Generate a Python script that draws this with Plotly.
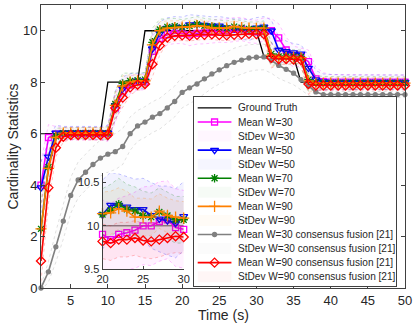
import plotly.graph_objects as go

# time axis (s)
time_s = list(range(1, 51))

ground_truth = [6, 6, 6, 6, 6, 6, 6, 6, 6, 8,
                8, 8, 8, 8, 10, 10, 10, 10, 10, 10,
                10, 10, 10, 10, 10, 10, 10, 10, 10, 10,
                9, 9, 9, 9, 9, 8, 8, 8, 8, 8,
                8, 8, 8, 8, 8, 8, 8, 8, 8, 8]

mean_w30 = [4.0, 5.85, 5.98, 6.0, 6.0, 6.0, 6.0, 6.0, 6.0, 6.0,
            7.0, 7.65, 7.9, 8.0, 8.0, 9.2, 9.7, 9.85, 9.9, 9.9,
            9.84, 9.9, 9.92, 9.95, 10.0, 10.0, 10.05, 10.07, 9.98, 9.96,
            10.05, 10.0, 9.72, 9.25, 9.0, 8.98, 8.8, 8.13, 8.02, 8.0,
            8.0, 8.0, 8.0, 8.0, 8.0, 8.0, 8.0, 8.0, 8.0, 8.0]
std_w30 = [0.9, 0.5, 0.3, 0.25, 0.25, 0.25, 0.25, 0.25, 0.25, 0.3,
           0.55, 0.45, 0.35, 0.3, 0.3, 0.6, 0.45, 0.4, 0.4, 0.4,
           0.42, 0.42, 0.43, 0.44, 0.45, 0.46, 0.46, 0.45, 0.45, 0.45,
           0.45, 0.48, 0.55, 0.5, 0.4, 0.35, 0.45, 0.45, 0.35, 0.3,
           0.3, 0.3, 0.28, 0.28, 0.28, 0.28, 0.28, 0.28, 0.28, 0.28]

mean_w50 = [3.9, 5.1, 6.03, 6.03, 6.03, 6.03, 6.03, 6.03, 6.03, 6.03,
            7.1, 7.75, 7.98, 8.05, 8.05, 9.3, 9.9, 10.1, 10.15, 10.13,
            10.24, 10.24, 10.22, 10.19, 10.19, 10.12, 10.08, 10.06, 10.03, 10.11,
            10.15, 10.0, 9.25, 9.2, 9.15, 9.1, 8.55, 8.1, 8.02, 8.0,
            8.0, 8.0, 8.0, 8.0, 8.0, 8.0, 8.0, 8.0, 8.0, 8.0]
std_w50 = [1.0, 0.6, 0.3, 0.25, 0.25, 0.25, 0.25, 0.25, 0.25, 0.3,
           0.55, 0.45, 0.35, 0.3, 0.3, 0.6, 0.45, 0.4, 0.4, 0.4,
           0.38, 0.36, 0.35, 0.35, 0.36, 0.38, 0.38, 0.4, 0.4, 0.4,
           0.4, 0.42, 0.5, 0.4, 0.35, 0.35, 0.5, 0.35, 0.3, 0.3,
           0.28, 0.28, 0.28, 0.28, 0.28, 0.28, 0.28, 0.28, 0.28, 0.28]

mean_w70 = [2.3, 4.7, 5.9, 6.02, 6.02, 6.02, 6.02, 6.02, 6.02, 6.02,
            7.15, 7.95, 8.05, 8.08, 8.1, 9.55, 10.05, 10.15, 10.18, 10.13,
            10.18, 10.25, 10.19, 10.17, 10.12, 10.1, 10.16, 10.12, 10.07, 10.07,
            10.1, 9.1, 9.0, 9.0, 9.0, 8.98, 8.1, 7.98, 7.97, 7.97,
            7.97, 7.97, 7.97, 7.97, 7.97, 7.97, 7.97, 7.97, 7.97, 7.97]
std_w70 = [1.0, 0.6, 0.3, 0.22, 0.22, 0.22, 0.22, 0.22, 0.22, 0.25,
           0.5, 0.4, 0.3, 0.28, 0.28, 0.55, 0.4, 0.32, 0.3, 0.3,
           0.3, 0.3, 0.29, 0.28, 0.28, 0.28, 0.28, 0.27, 0.27, 0.27,
           0.28, 0.45, 0.3, 0.28, 0.27, 0.27, 0.45, 0.28, 0.25, 0.25,
           0.24, 0.24, 0.24, 0.24, 0.24, 0.24, 0.24, 0.24, 0.24, 0.24]

mean_w90 = [2.3, 4.65, 5.85, 6.02, 6.02, 6.02, 6.02, 6.02, 6.02, 6.02,
            7.1, 7.85, 8.0, 8.05, 8.05, 9.45, 10.0, 10.1, 10.12, 10.14,
            10.15, 10.2, 10.17, 10.1, 10.1, 10.1, 10.17, 10.12, 10.1, 10.09,
            10.1, 9.05, 8.97, 8.97, 8.97, 8.95, 8.05, 7.96, 7.96, 7.96,
            7.96, 7.96, 7.96, 7.96, 7.96, 7.96, 7.96, 7.96, 7.96, 7.96]
std_w90 = [1.0, 0.6, 0.3, 0.2, 0.2, 0.2, 0.2, 0.2, 0.2, 0.22,
           0.5, 0.4, 0.28, 0.25, 0.25, 0.55, 0.35, 0.28, 0.26, 0.25,
           0.25, 0.24, 0.23, 0.22, 0.22, 0.21, 0.2, 0.2, 0.19, 0.19,
           0.2, 0.45, 0.28, 0.25, 0.24, 0.24, 0.45, 0.25, 0.22, 0.22,
           0.2, 0.2, 0.2, 0.2, 0.2, 0.2, 0.2, 0.2, 0.2, 0.2]

mean_cons_w30 = [0.0, 0.63, 1.6, 2.6, 3.6, 4.2, 4.5, 4.8, 5.05, 5.2,
                 5.3, 5.5, 6.0, 6.3, 6.45, 6.64, 6.78, 7.0, 7.25, 7.6,
                 7.78, 7.93, 8.13, 8.32, 8.48, 8.64, 8.77, 8.86, 8.94, 8.97,
                 8.98, 8.85, 8.65, 8.5, 8.35, 8.1, 7.85, 7.62, 7.52, 7.52,
                 7.52, 7.52, 7.52, 7.52, 7.52, 7.52, 7.52, 7.52, 7.52, 7.52]
std_cons_w30 = [0.1, 0.4, 0.6, 0.7, 0.7, 0.7, 0.7, 0.7, 0.7, 0.7,
                0.7, 0.7, 0.65, 0.6, 0.6, 0.6, 0.6, 0.6, 0.6, 0.6,
                0.6, 0.6, 0.58, 0.56, 0.55, 0.55, 0.55, 0.55, 0.52, 0.5,
                0.5, 0.5, 0.5, 0.48, 0.45, 0.4, 0.35, 0.25, 0.15, 0.12,
                0.12, 0.12, 0.12, 0.12, 0.12, 0.12, 0.12, 0.12, 0.12, 0.12]

mean_cons_w90 = [1.05, 3.9, 5.45, 5.88, 5.95, 5.95, 5.95, 5.95, 5.95, 5.95,
                 7.0, 7.4, 7.8, 7.9, 7.93, 8.7, 9.42, 9.74, 9.8, 9.82,
                 9.8, 9.84, 9.84, 9.86, 9.83, 9.82, 9.84, 9.86, 9.88, 9.87,
                 9.87, 8.95, 8.9, 8.9, 8.88, 8.86, 7.93, 7.87, 7.87, 7.87,
                 7.87, 7.87, 7.87, 7.87, 7.87, 7.87, 7.87, 7.87, 7.87, 7.87]
std_cons_w90 = [0.8, 0.6, 0.35, 0.2, 0.18, 0.18, 0.18, 0.18, 0.18, 0.2,
                0.45, 0.4, 0.3, 0.22, 0.2, 0.5, 0.35, 0.22, 0.2, 0.2,
                0.2, 0.2, 0.2, 0.2, 0.2, 0.2, 0.2, 0.19, 0.19, 0.19,
                0.2, 0.4, 0.22, 0.2, 0.2, 0.2, 0.4, 0.2, 0.18, 0.18,
                0.18, 0.18, 0.18, 0.18, 0.18, 0.18, 0.18, 0.18, 0.18, 0.18]

# (mean label, std label, mean, std, colour rgb, marker symbol, marker size)
series = [
    ("Mean W=30", "StDev W=30", mean_w30, std_w30, (255, 0, 255), "square-open", 6),
    ("Mean W=50", "StDev W=50", mean_w50, std_w50, (0, 0, 255), "triangle-down-open", 7),
    ("Mean W=70", "StDev W=70", mean_w70, std_w70, (0, 128, 0), "asterisk-open", 7),
    ("Mean W=90", "StDev W=90", mean_w90, std_w90, (255, 128, 0), "cross-thin-open", 8),
    ("Mean W=30 consensus fusion [21]", "StDev W=30 consensus fusion [21]",
     mean_cons_w30, std_cons_w30, (128, 128, 128), "circle", 4),
    ("Mean W=90 consensus fusion [21]", "StDev W=90 consensus fusion [21]",
     mean_cons_w90, std_cons_w90, (255, 0, 0), "diamond-open", 7),
]

FONT = "Liberation Sans"
AXIS_COL = "#404040"


def rgba(c, a):
    return "rgba(%d,%d,%d,%s)" % (c[0], c[1], c[2], a)


def add_band(fig, t, mean, std, col, xa, ya, alpha):
    upper = [m + s for m, s in zip(mean, std)]
    lower = [m - s for m, s in zip(mean, std)]
    fig.add_trace(go.Scatter(x=t + t[::-1], y=upper + lower[::-1], fill="toself",
                             fillcolor=rgba(col, alpha), line=dict(width=0),
                             mode="lines", hoverinfo="skip", showlegend=False,
                             xaxis=xa, yaxis=ya))
    for edge in (upper, lower):
        fig.add_trace(go.Scatter(x=t, y=edge, mode="lines",
                                 line=dict(color=rgba(col, 0.3), width=0.8, dash="dot"),
                                 hoverinfo="skip", showlegend=False, xaxis=xa, yaxis=ya))


def add_mean(fig, t, mean, col, symbol, size, xa, ya):
    mline = dict(color=rgba(col, 1), width=1.3)
    fig.add_trace(go.Scatter(x=t, y=mean, mode="lines+markers",
                             line=dict(color=rgba(col, 1), width=1.6),
                             marker=dict(symbol=symbol, size=size, color=rgba(col, 1), line=mline),
                             cliponaxis=False, showlegend=False, xaxis=xa, yaxis=ya))


fig = go.Figure()

# main plot
fig.add_trace(go.Scatter(x=time_s, y=ground_truth, mode="lines",
                         line=dict(color="black", width=1.3), showlegend=False,
                         xaxis="x", yaxis="y"))
for name, sname, mean, std, col, sym, size in series:
    add_mean(fig, time_s, mean, col, sym, size, "x", "y")
    add_band(fig, time_s, mean, std, col, "x", "y", 0.015)

# inset (20 s .. 30 s)
i0, i1 = 19, 30
t_in = time_s[i0:i1]
fig.add_trace(go.Scatter(x=t_in, y=ground_truth[i0:i1], mode="lines",
                         line=dict(color="#555555", width=1), showlegend=False,
                         xaxis="x2", yaxis="y2"))
for name, sname, mean, std, col, sym, size in series:
    if col == (128, 128, 128):
        continue
    add_mean(fig, t_in, mean[i0:i1], col, sym, size, "x2", "y2")
    add_band(fig, time_s, mean, std, col, "x2", "y2", 0.05)

# hand-made legend box (pixel units on x3/y3)
leg_rows = ["Ground Truth"]
for name, sname, *_ in series:
    leg_rows += [name, sname]
row_y = [107.7 + 14.08 * i for i in range(len(leg_rows))]

annotations = []
shapes = []
fig.add_trace(go.Scatter(x=[199, 233], y=[row_y[0]] * 2, mode="lines",
                         line=dict(color="black", width=1.3), showlegend=False,
                         xaxis="x3", yaxis="y3"))
for k, (name, sname, mean, std, col, sym, size) in enumerate(series):
    ym = row_y[1 + 2 * k]
    ys = row_y[2 + 2 * k]
    fig.add_trace(go.Scatter(x=[199, 233], y=[ym, ym], mode="lines",
                             line=dict(color=rgba(col, 1), width=1.6), showlegend=False,
                             xaxis="x3", yaxis="y3"))
    fig.add_trace(go.Scatter(x=[216], y=[ym], mode="markers",
                             marker=dict(symbol=sym, size=size, color=rgba(col, 1),
                                         line=dict(color=rgba(col, 1), width=1.3)),
                             showlegend=False, xaxis="x3", yaxis="y3"))
    shapes.append(dict(type="rect", xref="x3", yref="y3", x0=199, x1=233,
                       y0=ys - 5.5, y1=ys + 5.5, fillcolor=rgba(col, 0.035),
                       line=dict(width=0)))
for label, y in zip(leg_rows, row_y):
    annotations.append(dict(text=label, x=238, y=y, xref="x3", yref="y3",
                            xanchor="left", yanchor="middle", showarrow=False,
                            font=dict(family=FONT, size=10.1, color="#262626")))

annotations.append(dict(text="Time (s)", x=0.5, y=0, xref="paper", yref="paper",
                        yshift=-27, yanchor="middle", showarrow=False,
                        font=dict(family=FONT, size=14, color="#262626")))
annotations.append(dict(text="Cardinality Statistics", x=0, y=0.5, xref="paper", yref="paper",
                        xshift=-29, xanchor="center", yanchor="middle", textangle=-90,
                        showarrow=False, font=dict(family=FONT, size=14, color="#262626")))

axis_common = dict(showgrid=False, zeroline=False, ticks="inside", linecolor=AXIS_COL,
                   tickcolor=AXIS_COL, showline=True, linewidth=1,
                   tickfont=dict(family=FONT, color="#262626"))

fig.update_layout(
    width=415, height=330,
    margin=dict(l=41, r=7, t=4, b=42),
    paper_bgcolor="white", plot_bgcolor="white",
    showlegend=False,
    xaxis=dict(axis_common, domain=[0, 1], range=[1, 50], tickvals=list(range(5, 51, 5)),
               mirror="ticks", ticklen=4, tickfont=dict(family=FONT, size=13, color="#262626")),
    yaxis=dict(axis_common, domain=[0, 1], range=[0, 11], tickvals=[0, 2, 4, 6, 8, 10],
               mirror="ticks", ticklen=4, tickfont=dict(family=FONT, size=13, color="#262626")),
    xaxis2=dict(axis_common, domain=[0.169, 0.392], range=[20, 30], tickvals=[20, 25, 30],
                anchor="y2", ticklen=3, tickfont=dict(family=FONT, size=11, color="#262626")),
    yaxis2=dict(axis_common, domain=[0.067, 0.406], range=[9.5, 10.61],
                tickvals=[9.5, 10, 10.5], ticktext=["9.5", "10", "10.5"],
                anchor="x2", ticklen=3, tickfont=dict(family=FONT, size=11, color="#262626")),
    xaxis3=dict(domain=[0.4196, 0.9755], range=[195, 399], anchor="y3", showgrid=False,
                zeroline=False, showticklabels=False, ticks="", showline=True, mirror=True,
                linecolor=AXIS_COL, linewidth=1),
    yaxis3=dict(domain=[0.007, 0.674], range=[286, 97], anchor="x3", showgrid=False,
                zeroline=False, showticklabels=False, ticks="", showline=True, mirror=True,
                linecolor=AXIS_COL, linewidth=1),
    annotations=annotations,
    shapes=shapes,
)

# drop the browser's default 8px page margin so the figure sits at the window origin
fig.write_html("out.html", config={"displayModeBar": False},
               post_script="document.body.style.margin='0';")
